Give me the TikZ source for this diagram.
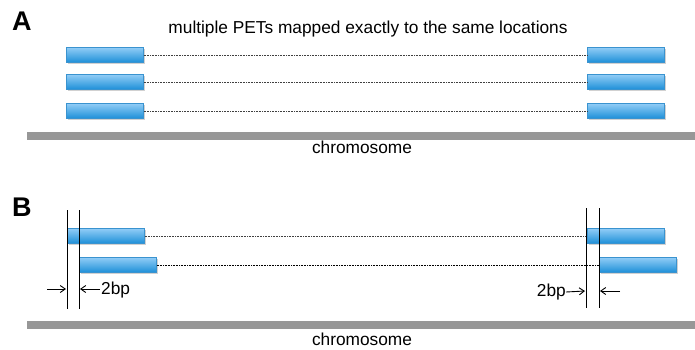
\documentclass[tikz,border=0pt]{standalone}
\usepackage{fontspec}
\setmainfont{Liberation Sans}
\usetikzlibrary{arrows.meta}
\definecolor{barTop}{HTML}{92CDF7}
\definecolor{barBot}{HTML}{1E90D8}
\definecolor{barEdge}{HTML}{3A93CF}
\definecolor{chrom}{HTML}{979797}
\tikzset{
  pet/.style={draw=barEdge, line width=0.6pt, top color=barTop, bottom color=barBot,
    minimum width=77pt, minimum height=15pt, inner sep=0pt, anchor=north west},
  petshadow/.style={fill=black!18, draw=none},
  chrbar/.style={fill=chrom, draw=none},
  link/.style={densely dotted, line width=0.6pt, black!75},
  marker/.style={line width=0.8pt, black},
  gap/.style={-{Straight Barb[length=5pt,width=7pt,line width=0.9pt]}, line width=0.9pt},
  lbl/.style={font=\fontsize{17.3}{20}\selectfont, inner sep=0pt},
  panel/.style={font=\fontsize{27}{30}\selectfont\bfseries, inner sep=0pt, anchor=north west}
}
\newcommand\petbar[3]{% name, x, y
  \fill[petshadow] (#2+1.5,#3+1.5) rectangle ++(77,15);
  \node[pet] (#1) at (#2,#3) {};
}
\begin{document}
\begin{tikzpicture}[x=1pt,y=-1pt]
\useasboundingbox (0,0) rectangle (695,349);

% ---------- panel A ----------
\node[panel] (A) at (12,12) {A};
\node[lbl] (titleA) at (368,29) {multiple PETs mapped exactly to the same locations};
\foreach \i/\y in {1/47,2/74,3/103}{
  \petbar{la\i}{66}{\y}
  \petbar{ra\i}{587}{\y}
  \draw[link] (la\i.east) -- (ra\i.west);
}
\fill[chrbar] (27,132) rectangle (695,140);
\node[lbl, anchor=base] (chrA) at (362,153) {chromosome};

% ---------- panel B ----------
\node[panel] (B) at (12,198) {B};
\petbar{lb1}{67}{228}
\petbar{lb2}{79}{257}
\petbar{rb1}{587}{228}
\petbar{rb2}{599}{257}
\draw[link] (lb1.east) -- (rb1.west);
\draw[link, black] (lb2.east) -- (rb2.west);

% start-position markers
\coordinate (m1t) at (67,210);  \coordinate (m1b) at (67,309);
\coordinate (m2t) at (79,210);  \coordinate (m2b) at (79,309);
\coordinate (m3t) at (586,208); \coordinate (m3b) at (586,308);
\coordinate (m4t) at (599,208); \coordinate (m4b) at (599,308);
\draw[marker] (m1t) -- (m1b);
\draw[marker] (m2t) -- (m2b);
\draw[marker] (m3t) -- (m3b);
\draw[marker] (m4t) -- (m4b);

% 2bp offsets
\coordinate (a1s) at (47,289);  \coordinate (a1e) at (66,289);
\coordinate (a2s) at (100,289); \coordinate (a2e) at (80,289);
\draw[gap] (a1s) -- (a1e);
\draw[gap] (a2s) -- (a2e);
\node[lbl, anchor=west] (bpL) at (101,290) {2bp};

\node[lbl, anchor=east] (bpR) at (566,292) {2bp};
\coordinate (a3e) at (585,291);
\coordinate (a4s) at (620,291); \coordinate (a4e) at (600,291);
\draw[gap] (bpR.east) -- (a3e);
\draw[gap] (a4s) -- (a4e);

\fill[chrbar] (27,321) rectangle (695,329);
\node[lbl, anchor=base] (chrB) at (362,345) {chromosome};
\end{tikzpicture}
\end{document}
